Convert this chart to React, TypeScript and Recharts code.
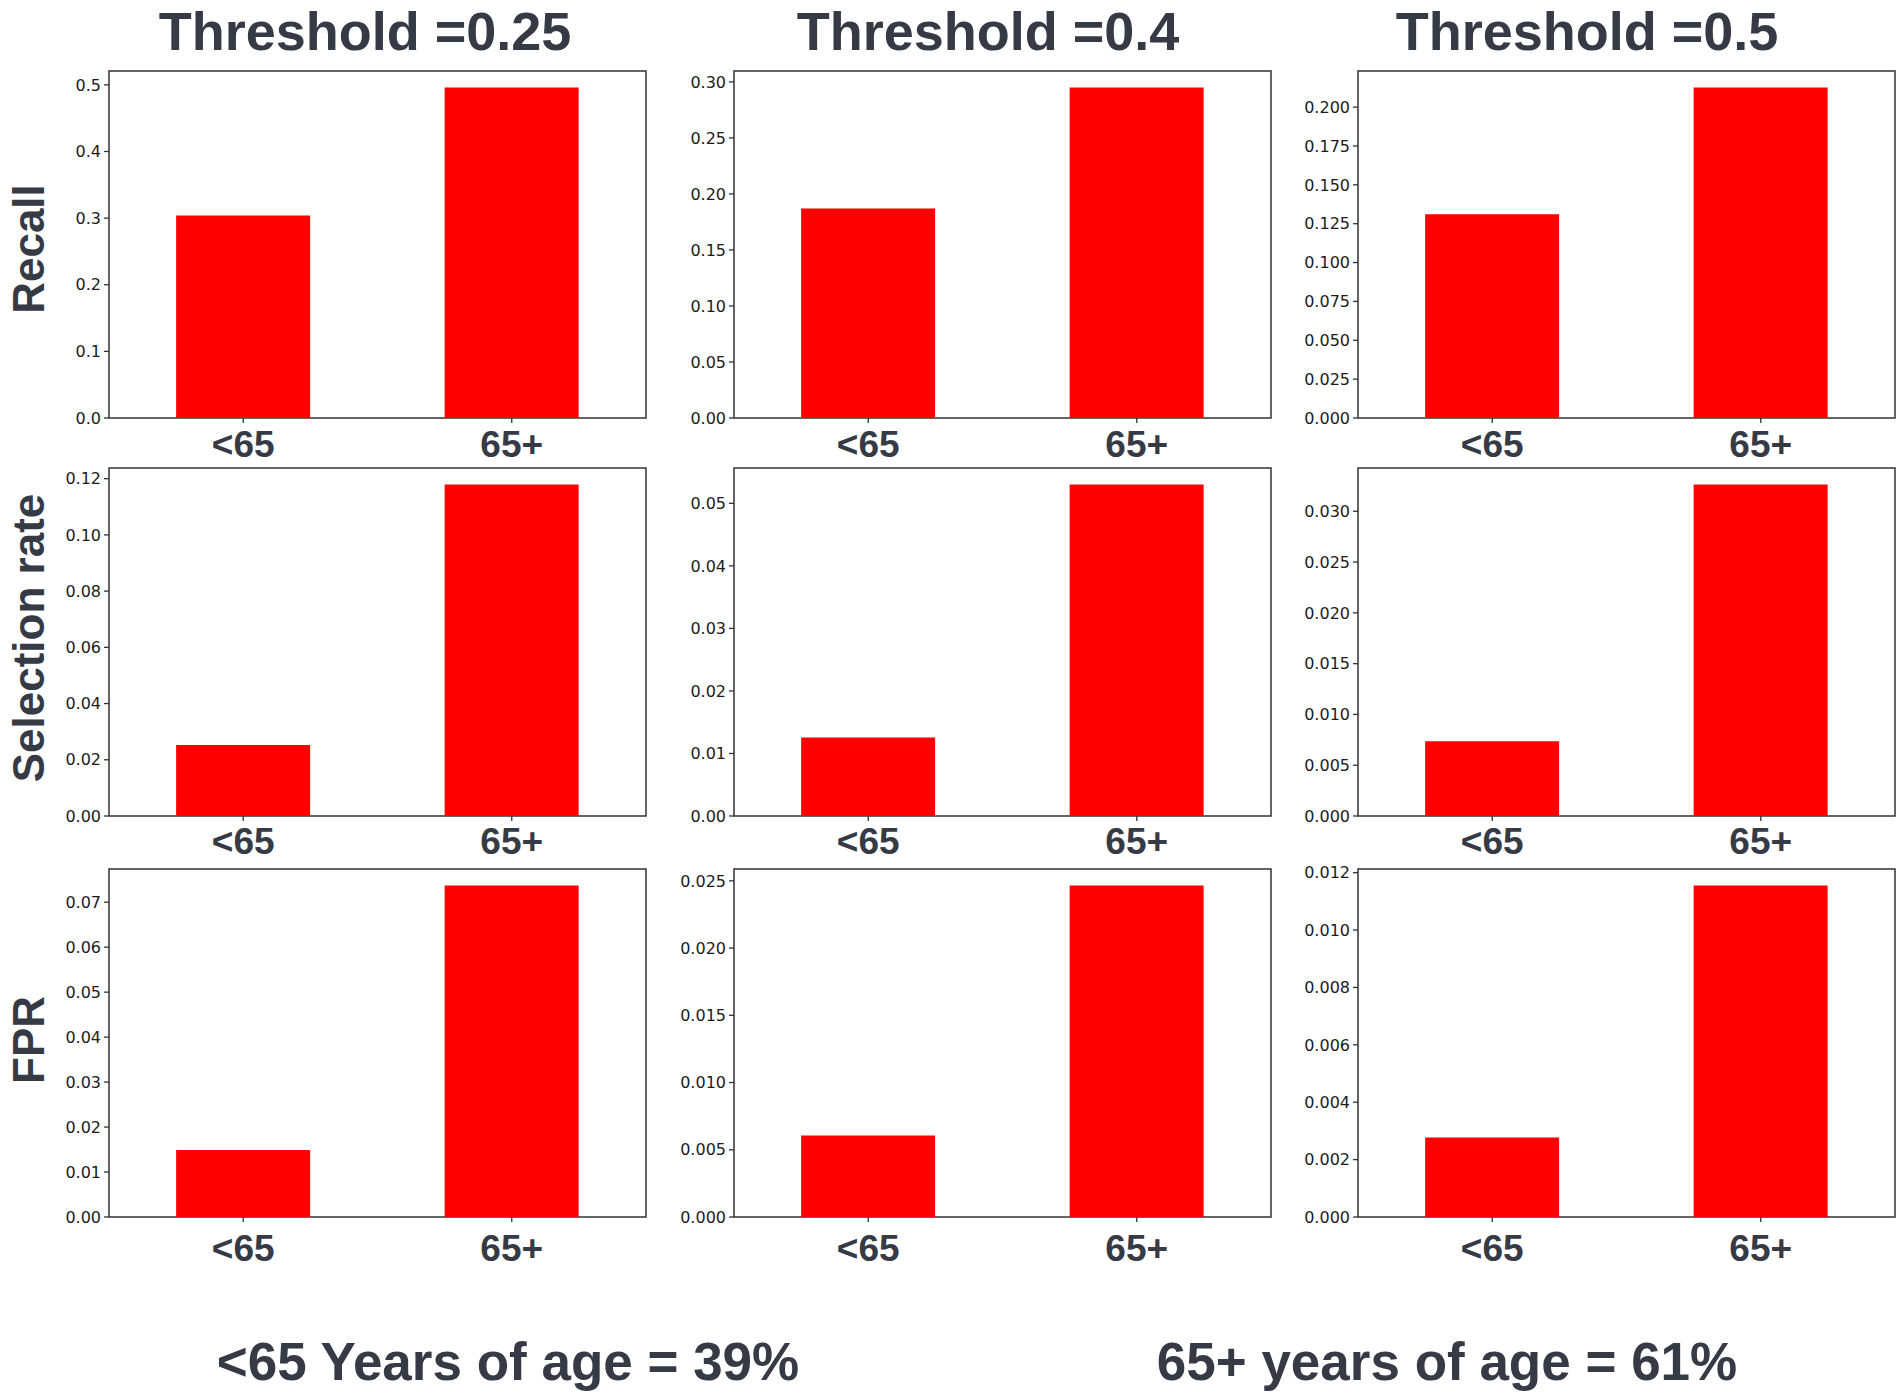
import React from 'react';
import { BarChart, Bar, XAxis, YAxis, ReferenceArea } from 'recharts';

// categories and labels
const groups = ['<65', '65+'];
const thresholds = ['Threshold =0.25', 'Threshold =0.4', 'Threshold =0.5'];
const metrics = ['Recall', 'Selection rate', 'FPR'];
const shareLabels = ['<65 Years of age = 39%', '65+ years of age = 61%'];

// values per threshold: [<65, 65+]
const recallValues = [[0.304, 0.496], [0.187, 0.295], [0.131, 0.2126]];
const selectionValues = [[0.0253, 0.1179], [0.01255, 0.053], [0.00737, 0.03263]];
const fprValues = [[0.0149, 0.0737], [0.00606, 0.02465], [0.00277, 0.01155]];

// y ticks per threshold
const recallTicks = [
  [0, 0.1, 0.2, 0.3, 0.4, 0.5],
  [0, 0.05, 0.1, 0.15, 0.2, 0.25, 0.3],
  [0, 0.025, 0.05, 0.075, 0.1, 0.125, 0.15, 0.175, 0.2],
];
const selectionTicks = [
  [0, 0.02, 0.04, 0.06, 0.08, 0.1, 0.12],
  [0, 0.01, 0.02, 0.03, 0.04, 0.05],
  [0, 0.005, 0.01, 0.015, 0.02, 0.025, 0.03],
];
const fprTicks = [
  [0, 0.01, 0.02, 0.03, 0.04, 0.05, 0.06, 0.07],
  [0, 0.005, 0.01, 0.015, 0.02, 0.025],
  [0, 0.002, 0.004, 0.006, 0.008, 0.01, 0.012],
];
const recallDecimals = [1, 2, 3];
const selectionDecimals = [2, 2, 3];
const fprDecimals = [2, 3, 3];

const rowValues = [recallValues, selectionValues, fprValues];
const rowTicks = [recallTicks, selectionTicks, fprTicks];
const rowDecimals = [recallDecimals, selectionDecimals, fprDecimals];

// layout
const colLeft = [109, 734, 1358];
const plotW = 537;
const rowTop = [71, 468, 869];
const rowBottom = [418, 816, 1217];
const labelDy = [32, 31, 37];
const yAxisW = 90;
const topPad = 10;
const xAxisH = 60;

const textColor = '#363a45';
const boldFont = "'Liberation Sans', Arial, sans-serif";
const tickFont = "'DejaVu Sans', sans-serif";

function Panel({ row, col }: { row: number; col: number }) {
  const values = rowValues[row][col];
  const data = groups.map((g, i) => ({ group: g, value: values[i] }));
  const top = Math.max(...values) * 1.05;
  const decimals = rowDecimals[row][col];
  const plotH = rowBottom[row] - rowTop[row];
  const dy = labelDy[row];

  return (
    <div style={{ position: 'absolute', left: colLeft[col] - yAxisW, top: rowTop[row] - topPad }}>
      <BarChart
        width={yAxisW + plotW + 10}
        height={topPad + plotH + xAxisH}
        data={data}
        margin={{ top: topPad, right: 10, bottom: 0, left: 0 }}
        barCategoryGap="25%"
      >
        <XAxis
          dataKey="group"
          height={xAxisH}
          axisLine={false}
          tickSize={5}
          tickMargin={2}
          tickLine={{ stroke: '#333', strokeWidth: 1.3 }}
          interval={0}
          tick={(p: any) => (
            <text x={p.x} y={p.y} dy={dy} textAnchor="middle" fontFamily={boldFont} fontWeight="bold" fontSize={37} fill={textColor}>
              {p.payload.value}
            </text>
          )}
        />
        <YAxis
          type="number"
          width={yAxisW}
          domain={[0, top]}
          ticks={rowTicks[row][col]}
          interval={0}
          allowDataOverflow
          axisLine={false}
          tickSize={5}
          tickMargin={3}
          tickLine={{ stroke: '#333', strokeWidth: 1.3 }}
          tick={{ fontFamily: tickFont, fontSize: 16, fill: '#1c1c1c' }}
          tickFormatter={(v: number) => v.toFixed(decimals)}
        />
        <Bar dataKey="value" fill="#fe0000" isAnimationActive={false} />
        <ReferenceArea y1={0} y2={top} fill="none" stroke="#333" strokeWidth={1.5} strokeOpacity={1} fillOpacity={0} />
      </BarChart>
    </div>
  );
}

const titleX = [365, 988, 1587];
const metricY = [249, 638, 1040];
const shareX = [508, 1447];

export default function App() {
  return (
    <div style={{ position: 'absolute', left: 0, top: 0, width: 1902, height: 1400, background: '#fff' }}>
      {metrics.map((_, r) => thresholds.map((__, c) => <Panel key={`${r}-${c}`} row={r} col={c} />))}
      <svg width={1902} height={1400} style={{ position: 'absolute', left: 0, top: 0, pointerEvents: 'none' }}>
        {thresholds.map((t, i) => (
          <text key={t} x={titleX[i]} y={50} textAnchor="middle" fontFamily={boldFont} fontWeight="bold" fontSize={54} fill={textColor}>
            {t}
          </text>
        ))}
        {metrics.map((m, i) => (
          <text
            key={m}
            transform={`translate(44, ${metricY[i]}) rotate(-90)`}
            textAnchor="middle"
            fontFamily={boldFont}
            fontWeight="bold"
            fontSize={44}
            fill={textColor}
          >
            {m}
          </text>
        ))}
        {shareLabels.map((s, i) => (
          <text key={s} x={shareX[i]} y={1380} textAnchor="middle" fontFamily={boldFont} fontWeight="bold" fontSize={53} fill={textColor}>
            {s}
          </text>
        ))}
      </svg>
    </div>
  );
}
